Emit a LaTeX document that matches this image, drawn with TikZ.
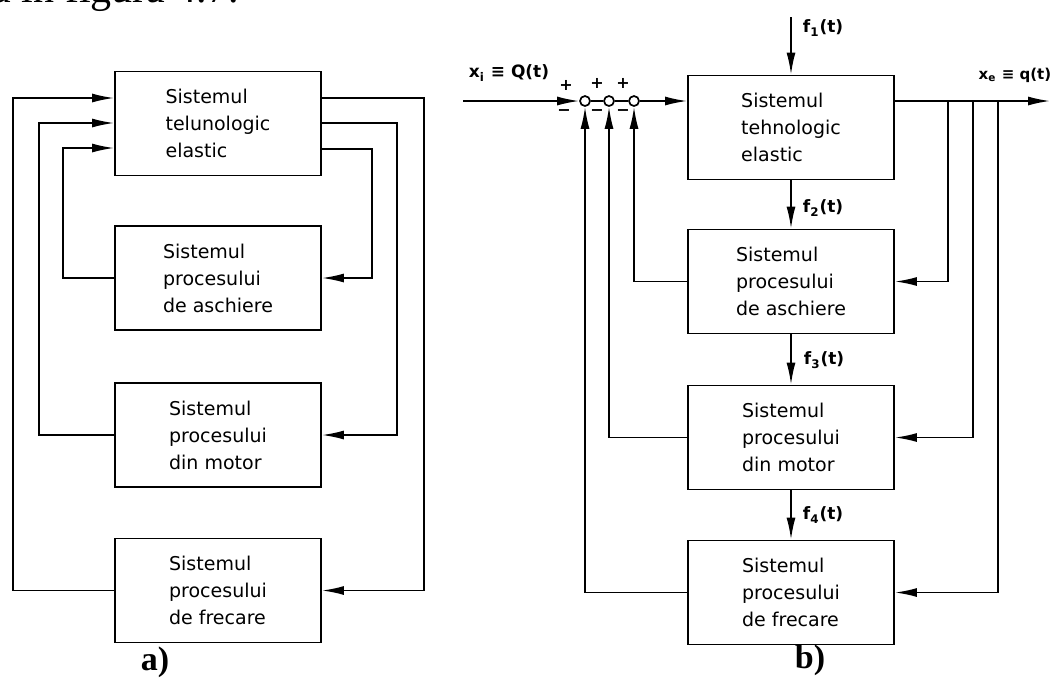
\documentclass[tikz,border=0pt]{standalone}
\usepackage{fontspec}
\setmainfont{Liberation Serif}
\newfontfamily\blkfont{DejaVu Sans}
\usetikzlibrary{arrows.meta, positioning}
\tikzset{
  every picture/.style={line width=0.85pt},
  blok/.style={draw, line width=0.95pt, minimum width=103pt, minimum height=52pt, align=left, font=\blkfont\fontsize{9.5}{13.5}\selectfont},
  arrow/.style={-{Latex[length=11pt, width=4.5pt]}},
  sum/.style={draw, circle, inner sep=0pt, minimum size=5pt},
  lbl/.style={font=\blkfont\bfseries\fontsize{8.5}{10}\selectfont, inner sep=0pt},
  sgn/.style={font=\blkfont\bfseries\fontsize{8}{9}\selectfont, inner sep=0pt},
  tag/.style={font=\bfseries\fontsize{17}{19}\selectfont},
}
\begin{document}
\begin{tikzpicture}[x=0.5pt, y=-0.5pt]
  \useasboundingbox (0,0) rectangle (1053,677);
  % line of text above the figure, cut by the page
  \node[anchor=base west, inner sep=0pt, font=\fontsize{21}{24}\selectfont] (txt) at (-8,2) {a în figura 4.7.};
  % a) blocks
  \node[blok] (s1) at (218,123.5) {Sistemul\\telunologic\\elastic};
  \node[blok] (s2) at (218,278) {Sistemul\\procesului\\de aschiere};
  \node[blok] (s3) at (218,435) {Sistemul\\procesului\\din motor};
  \node[blok] (s4) at (218,590.5) {Sistemul\\procesului\\de frecare};
  \node[tag] (ta) at (155,662) {a)};
  % a) couplings
  \draw[arrow] (s1.east |- 0,98) -- (424,98) |- (s4.east);
  \draw[arrow] (s1.east |- 0,123) -- (397,123) |- (s3.east);
  \draw[arrow] (s1.east |- 0,149) -- (372,149) |- (s2.east);
  \draw[arrow] (s2.west) -| (63,148) -- (s1.west |- 0,148);
  \draw[arrow] (s3.west) -| (39,123) -- (s1.west |- 0,123);
  \draw[arrow] (s4.west) -| (13,98) -- (s1.west |- 0,98);
  % b) blocks
  \node[blok] (b1) at (791,127.5) {Sistemul\\tehnologic\\elastic};
  \node[blok] (b2) at (791,281.5) {Sistemul\\procesului\\de aschiere};
  \node[blok] (b3) at (791,437.5) {Sistemul\\procesului\\din motor};
  \node[blok] (b4) at (791,592.5) {Sistemul\\procesului\\de frecare};
  \node[tag] (tb) at (810,660) {b)};
  % summing points
  \foreach \n/\x in {1/585, 2/609, 3/634} \node[sum] (c\n) at (\x,101) {};
  \foreach \n/\x/\y in {1/566/85, 2/597/83, 3/623/83} \node[sgn] (p\n) at (\x,\y) {+};
  \foreach \n/\x in {1/564, 2/597, 3/623} \node[sgn] (m\n) at (\x,113) {−};
  % input and output
  \coordinate (xin) at (463,101);
  \coordinate (xout) at (1050,101);
  \node[lbl] (lxi) at (509,73) {x\textsubscript{i} ≡ Q(t)};
  \node[lbl, anchor=east, font=\blkfont\bfseries\fontsize{7.5}{8}\selectfont] (lxe) at (1052,75) {x\textsubscript{e} ≡ q(t)};
  \draw[arrow] (xin) -- (c1);
  \draw (c1) -- (c2) (c2) -- (c3);
  \draw[arrow] (c3) -- (b1.west |- c3);
  \draw[arrow] (b1.east |- c3) -- (xout);
  % feedback
  \foreach \x/\b in {948/b2, 973/b3, 998/b4} \draw[arrow] (\x,101) |- (\b.east);
  \draw[arrow] (b2.west) -| (c3);
  \draw[arrow] (b3.west) -| (c2);
  \draw[arrow] (b4.west) -| (c1);
  % disturbances
  \coordinate (f1) at (791,17);
  \draw[arrow] (f1) -- (b1.north);
  \draw[arrow] (b1) -- (b2);
  \draw[arrow] (b2) -- (b3);
  \draw[arrow] (b3) -- (b4);
  \node[lbl, anchor=west] (lf1) at (802,28) {f\textsubscript{1}(t)};
  \node[lbl, anchor=west] (lf2) at (802,208) {f\textsubscript{2}(t)};
  \node[lbl, anchor=west] (lf3) at (803,360) {f\textsubscript{3}(t)};
  \node[lbl, anchor=west] (lf4) at (802,515) {f\textsubscript{4}(t)};
\end{tikzpicture}
\end{document}
